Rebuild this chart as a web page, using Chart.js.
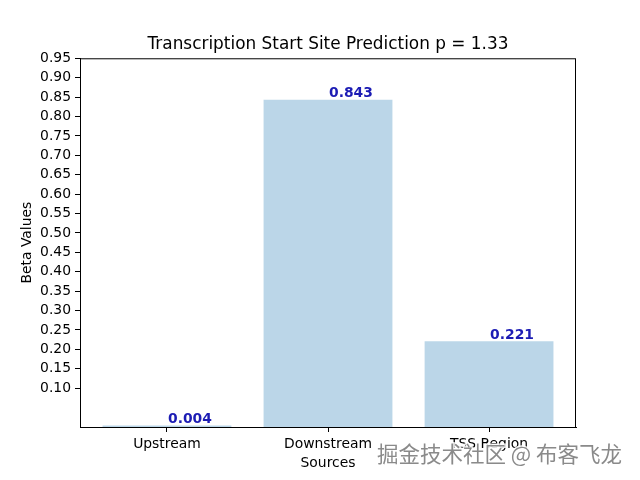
<!DOCTYPE html>
<html>
<head>
<meta charset="utf-8">
<script src="https://cdn.jsdelivr.net/npm/chart.js@4/dist/chart.umd.min.js"></script>
<style>
  body { margin: 0; background: #fff; }
  canvas { display: block; }
</style>
</head>
<body>
<canvas id="graph" width="640" height="480"></canvas>
<script>
// data
const sources = ["Upstream", "Downstream", "TSS Region"];
const betaValues = [0.004, 0.843, 0.221];
const yTicks = [0.10, 0.15, 0.20, 0.25, 0.30, 0.35, 0.40, 0.45, 0.50,
                0.55, 0.60, 0.65, 0.70, 0.75, 0.80, 0.85, 0.90, 0.95];
const titleText = "Transcription Start Site Prediction p = 1.33";
const watermark = "掘金技术社区 @ 布客飞龙";

Chart.defaults.font.family = "'DejaVu Sans', sans-serif";
Chart.defaults.font.size = 13.9;
Chart.defaults.color = "#000";

const points = sources.map((s, i) => ({ x: i, y: betaValues[i] }));

// frame, value labels and watermark
const extras = {
  id: "extras",
  afterDatasetsDraw(chart) {
    const ctx = chart.ctx;
    const a = chart.chartArea;
    const xs = chart.scales.x, ys = chart.scales.y;
    ctx.save();
    ctx.strokeStyle = "#000";
    ctx.lineWidth = 1;
    ctx.strokeRect(a.left + 0.5, a.top + 0.5, a.right - a.left - 1, a.bottom - a.top);

    ctx.font = "bold 13.9px 'DejaVu Sans'";
    ctx.fillStyle = "#1c1cb4";
    ctx.textAlign = "left";
    ctx.textBaseline = "alphabetic";
    betaValues.forEach((v, i) => {
      ctx.fillText(v.toFixed(3), xs.getPixelForValue(i) + 1, ys.getPixelForValue(v) - 2.5);
    });
    ctx.restore();
  },
  afterDraw(chart) {
    const ctx = chart.ctx;
    ctx.save();
    ctx.font = "21.5px 'Noto Sans CJK SC'";
    ctx.textAlign = "left";
    ctx.textBaseline = "middle";
    ctx.lineWidth = 3;
    ctx.strokeStyle = "rgba(255,255,255,0.85)";
    ctx.strokeText(watermark, 377, 454);
    ctx.fillStyle = "#8a8a8a";
    ctx.fillText(watermark, 377, 454);
    ctx.restore();
  }
};

new Chart(document.getElementById("graph"), {
  type: "bar",
  data: {
    datasets: [{
      data: points,
      backgroundColor: "rgba(31,119,180,0.3)",
      borderWidth: 0,
      categoryPercentage: 0.8,
      barPercentage: 1.0
    }]
  },
  options: {
    responsive: false,
    animation: false,
    layout: { padding: { left: 0, right: 64, top: 0, bottom: 0 } },
    plugins: {
      legend: { display: false },
      tooltip: { enabled: false },
      title: {
        display: true,
        text: titleText,
        fullSize: false,
        font: { size: 16.9, weight: "normal" },
        color: "#000",
        padding: { top: 34, bottom: 4 }
      }
    },
    scales: {
      x: {
        type: "linear",
        min: -0.54,
        max: 2.54,
        offset: false,
        afterBuildTicks(scale) {
          scale.ticks = sources.map((s, i) => ({ value: i }));
        },
        afterFit(scale) { scale.height = 53; },
        ticks: {
          padding: 4,
          callback: (v) => sources[v]
        },
        grid: { drawOnChartArea: false, offset: false, tickLength: 5, color: "#000" },
        border: { color: "#000" },
        title: { display: true, text: "Sources", padding: { top: 0, bottom: 8 } }
      },
      y: {
        min: 0,
        max: 0.95,
        afterBuildTicks(scale) {
          scale.ticks = yTicks.map(v => ({ value: v }));
        },
        afterFit(scale) { scale.width = 80; },
        ticks: {
          padding: 4,
          callback: (v) => v.toFixed(2)
        },
        grid: { drawOnChartArea: false, tickLength: 5, color: "#000" },
        border: { color: "#000" },
        title: { display: true, text: "Beta Values", padding: { top: 19, bottom: 0 } }
      }
    }
  },
  plugins: [extras]
});
</script>
</body>
</html>
